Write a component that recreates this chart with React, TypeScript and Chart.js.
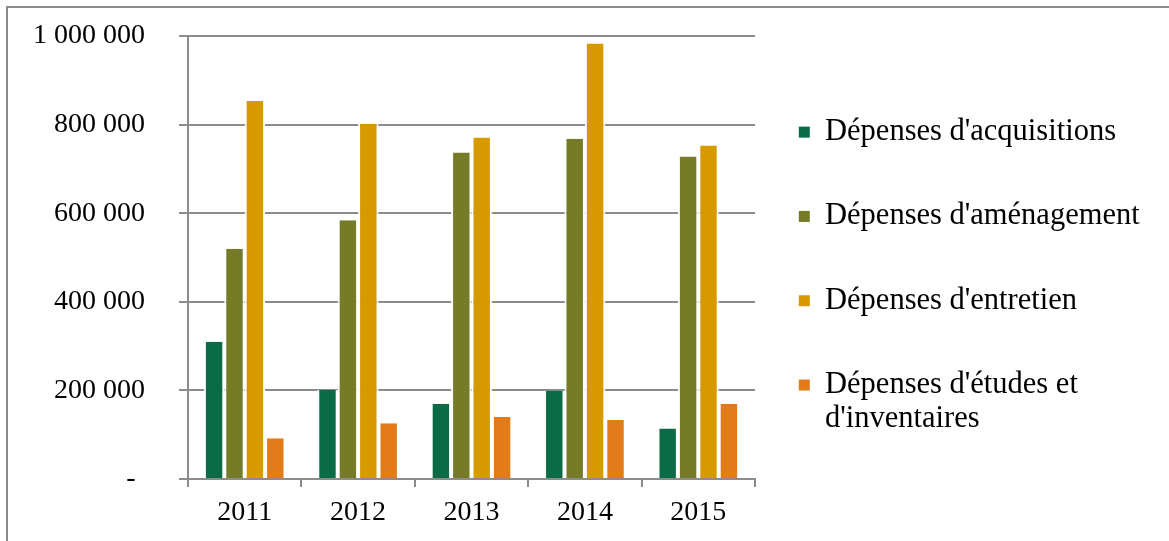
import React, { useEffect, useRef } from "react";
import { Chart, registerables } from "chart.js";

Chart.register(...registerables);

const years = ["2011", "2012", "2013", "2014", "2015"];
const acquisitions = [310000, 201000, 170000, 199000, 114000];
const amenagement = [520000, 584000, 737000, 768000, 728000];
const entretien = [853000, 802000, 771000, 983000, 753000];
const etudes = [92000, 126000, 140000, 133000, 170000];

const seriesLabels: (string | string[])[] = [
  "Dépenses d'acquisitions",
  "Dépenses d'aménagement",
  "Dépenses d'entretien",
  ["Dépenses d'études et", "d'inventaires"],
];
const seriesColors = ["#0b6b46", "#767b27", "#d69a00", "#e27b1a"];
const seriesValues = [acquisitions, amenagement, entretien, etudes];

const GRID = "#8c8c8c";
const FONT = "'Liberation Serif', 'Times New Roman', serif";

function formatTick(v: number): string {
  if (v === 0) return "-\u00a0\u200a";
  return String(v).replace(/\B(?=(\d{3})+(?!\d))/g, " ");
}

const legendLayout = {
  id: "legendLayout",
  beforeLayout(chart: any) {
    const l = chart.legend;
    if (l && !l.__patched) {
      const orig = l.fit.bind(l);
      l.fit = () => {
        orig();
        l.width = 414;
      };
      l.__patched = true;
    }
  },
  afterLayout(chart: any) {
    const l = chart.legend;
    if (!l) return;
    l.left -= 10;
    l.right -= 10;
    l.top += 20;
    l.bottom += 20;
  },
};

export default function App() {
  const ref = useRef<HTMLCanvasElement | null>(null);

  useEffect(() => {
    if (!ref.current) return;
    const chart = new Chart(ref.current, {
      type: "bar",
      data: {
        labels: years,
        datasets: seriesValues.map((vals, i) => ({
          label: Array.isArray(seriesLabels[i])
            ? (seriesLabels[i] as string[]).join(" ")
            : (seriesLabels[i] as string),
          data: vals,
          backgroundColor: seriesColors[i],
          borderColor: "#ffffff",
          borderWidth: { left: 2, right: 2, top: 0, bottom: 0 },
          borderSkipped: "start",
          categoryPercentage: 0.72,
          barPercentage: 1,
        })),
      },
      options: {
        animation: false,
        responsive: false,
        events: [],
        layout: { padding: { left: 0, top: 36, right: 0, bottom: 0 } },
        plugins: {
          tooltip: { enabled: false },
          title: { display: false },
          legend: {
            display: true,
            position: "right",
            fullSize: false,
            align: "center",
            labels: {
              boxWidth: 11,
              boxHeight: 11,
              padding: 53.8,
              color: "#000000",
              font: { family: FONT, size: 30.5, lineHeight: 1.12 },
              generateLabels: (c: any) => {
                const items = Chart.defaults.plugins.legend.labels.generateLabels(c);
                return items.map((it: any, i: number) => ({
                  ...it,
                  text: seriesLabels[i],
                  lineWidth: 0,
                  strokeStyle: seriesColors[i],
                }));
              },
            },
          },
        },
        scales: {
          x: {
            offset: true,
            grid: {
              display: true,
              offset: true,
              drawOnChartArea: false,
              drawTicks: true,
              tickLength: 8,
              color: GRID,
              lineWidth: 2,
            },
            border: { display: true, color: GRID, width: 2 },
            ticks: {
              color: "#000000",
              padding: 9,
              maxRotation: 0,
              font: { family: FONT, size: 28 },
            },
            afterFit: (s: any) => {
              s.height = 62;
              s.paddingLeft = 0;
              s.paddingRight = 0;
            },
          },
          y: {
            min: 0,
            max: 1000000,
            grid: {
              color: GRID,
              lineWidth: 2,
              drawTicks: true,
              tickLength: 9,
            },
            border: { display: true, color: GRID, width: 2 },
            ticks: {
              stepSize: 200000,
              color: "#000000",
              padding: 34,
              font: { family: FONT, size: 28 },
              callback: (v: any) => formatTick(Number(v)),
            },
            afterFit: (s: any) => {
              s.width = 188;
              s.paddingTop = 0;
              s.paddingBottom = 0;
            },
          },
        },
      },
      plugins: [legendLayout],
    });
    return () => chart.destroy();
  }, []);

  return (
    <div style={{ position: "absolute", left: 0, top: 0, width: 1169, height: 541, overflow: "hidden", background: "#ffffff" }}>
      <div
        style={{
          position: "absolute",
          left: 6,
          top: 6,
          width: 1200,
          height: 600,
          borderLeft: `2px solid ${GRID}`,
          borderTop: `2px solid ${GRID}`,
          boxSizing: "border-box",
        }}
      />
      <canvas
        ref={ref}
        width={1169}
        height={541}
        style={{ position: "absolute", left: 0, top: 0, display: "block" }}
      />
    </div>
  );
}
